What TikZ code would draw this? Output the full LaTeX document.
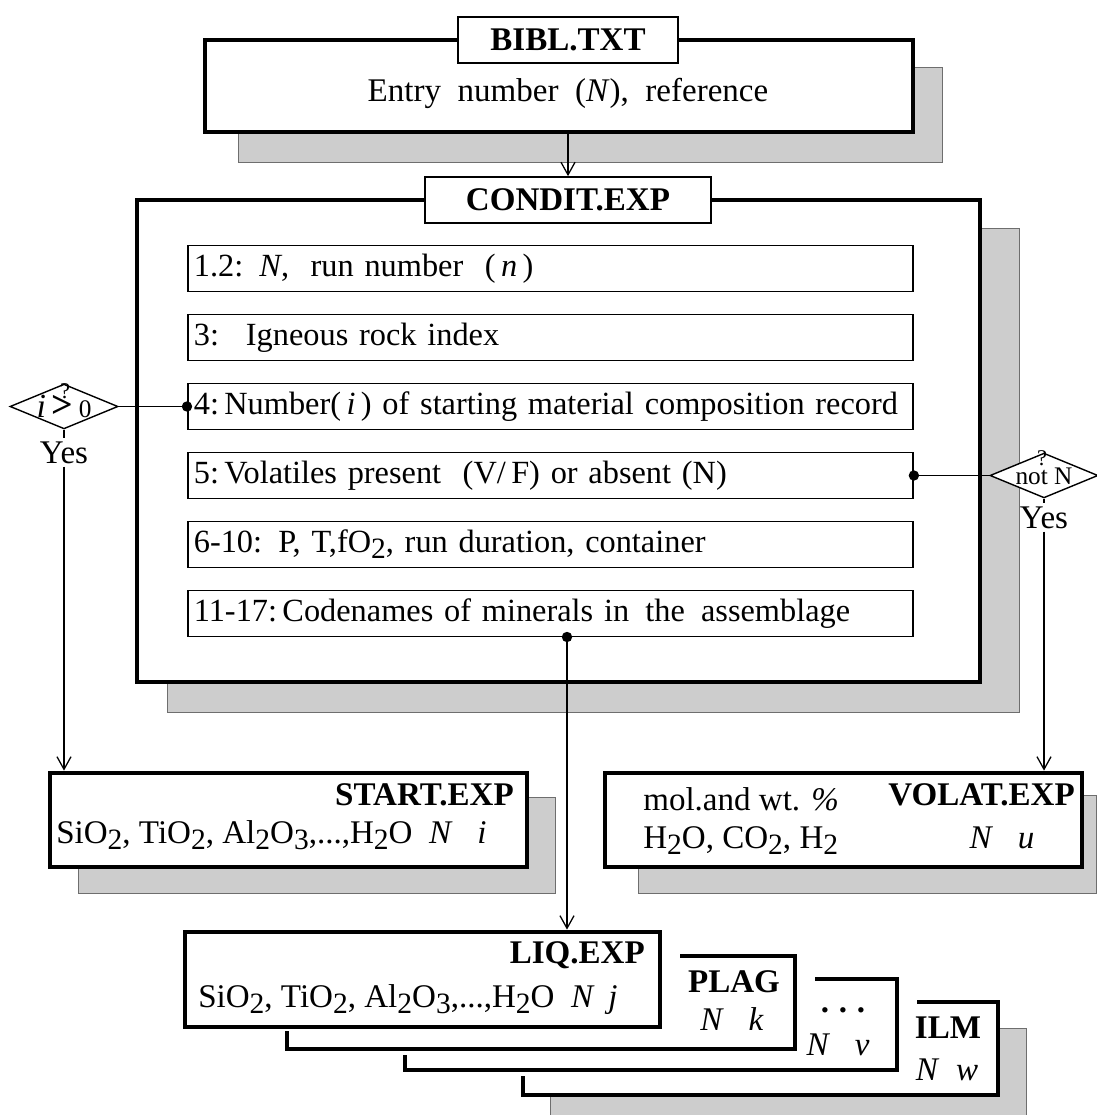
\documentclass[tikz,border=0pt]{standalone}
\usepackage{fontspec}
\setmainfont{Liberation Serif}
\usepackage{tikz}
\usetikzlibrary{shapes.geometric, arrows.meta, positioning, fit}
\usepackage{xcolor}
\definecolor{shadowgray}{RGB}{205,205,205}
\definecolor{shadowedge}{RGB}{110,110,110}
\newcommand{\bodysize}{\fontsize{23.5}{28}\selectfont}
\newcommand{\lowsub}[1]{\raisebox{-0.4ex}{\fontsize{21}{21}\selectfont #1}}
\tikzstyle{bigbox} = [draw, line width=3.4pt, fill=white, inner sep=0pt]
\tikzstyle{titlebox} = [draw, line width=1.2pt, fill=white, minimum height=1.15cm, font=\bodysize\bfseries]
\tikzstyle{rowbox} = [draw, line width=1.2pt, fill=white, anchor=west, minimum height=1.15cm, text width=17.825cm, inner xsep=0.15cm, align=left, font=\fontsize{23}{28}\selectfont]
\tikzstyle{shadowbox} = [fill=shadowgray, draw=shadowedge, line width=0.4pt]
\tikzstyle{decision} = [diamond, draw, line width=1pt, fill=white, inner sep=0pt, minimum width=2.7cm, minimum height=1.12cm]
\tikzstyle{backedge} = [line width=3.4pt, line cap=rect]
\tikzstyle{txt} = [inner sep=0pt, font=\bodysize]
\tikzstyle{query} = [inner sep=0pt, font=\fontsize{16}{16}\selectfont]
\tikzstyle{yes} = [inner sep=2pt, font=\bodysize]
\tikzstyle{link} = [line width=0.9pt]
\tikzstyle{arrow} = [line width=0.9pt,->,>={Straight Barb[length=9pt,width=10pt]}]
\tikzstyle{joint} = [circle, fill=black, inner sep=0pt, minimum size=0.26cm]

\begin{document}
\begin{tikzpicture}[x=0.025cm, y=-0.025cm]
\useasboundingbox (0,0) rectangle (1096,1115);

% shadows
\filldraw[shadowbox] (238,67) rectangle (942,162);
\filldraw[shadowbox] (167,228) rectangle (1019,712);
\filldraw[shadowbox] (78,797) rectangle (555,893);
\filldraw[shadowbox] (638,795) rectangle (1096,893);
\filldraw[shadowbox] (550,1028) rectangle (1026,1125);

% bibliography file
\node[bigbox, fit={(205,40) (913,132)}] (bibl) {};
\node[titlebox, minimum width=5.5cm] (bibltitle) at (568,40) {BIBL.TXT};
\node[txt, anchor=base] (bibltext) at (568,102) {Entry\ \ number\ \ (\textit{N}),\ \ reference};

% experimental conditions
\node[bigbox, fit={(137,200) (980,682)}] (condit) {};
\node[titlebox, minimum width=7.15cm] (condittitle) at (568,200) {CONDIT.EXP};
\node[rowbox] (row1) at (187,268.5) {1.2: \textit{N}, \ run number \ (\,\textit{n}\,)};
\node[rowbox] (row2) at (187,337.5) {3: \ Igneous rock index};
\node[rowbox] (row3) at (187,406.5) {\mbox{4:\,Number(\,\textit{i}\,) of starting material composition record}};
\node[rowbox] (row4) at (187,475.5) {5:\,Volatiles present \ (V/\,F) or absent (N)};
\node[rowbox] (row5) at (187,544.5) {6-10: P, T,fO\lowsub{2}, run duration, container};
\node[rowbox] (row6) at (187,613.5) {11-17:\,Codenames of minerals in \,the \,assemblage};

% decisions
\node[decision] (ldiam) at (64,406.5) {};
\node[txt, anchor=base] (ldiamtxt) at (64,417) {\fontsize{24}{24}\selectfont\textit{i}\,{\fontsize{27}{27}\selectfont\textbf{>}}\,{\fontsize{18}{18}\selectfont 0}};
\node[query, anchor=base] (lquery) at (65,398) {?};
\node[yes, below=0.22cm of ldiam] (lyes) {Yes};
\node[decision] (rdiam) at (1044,475.5) {};
\node[txt, anchor=base] (rdiamtxt) at (1044,484) {\fontsize{18}{18}\selectfont not N};
\node[query, anchor=base] (rquery) at (1042,465) {?};
\node[yes, below=0.12cm of rdiam] (ryes) {Yes};

\draw[link] (ldiam.east) -- (row3.west);
\node[joint] (ldot) at (row3.west) {};
\draw[link] (row4.east) -- (rdiam.west);
\node[joint] (rdot) at (row4.east) {};
\draw[link] (ldiam.south) -- (lyes.north);
\draw[link] (rdiam.south) -- (ryes.north);

% start and volatile files
\node[bigbox, fit={(50,773) (527,867)}] (start) {};
\node[txt, anchor=base east] (starttitle) at (514,805) {\bfseries START.EXP};
\node[txt, anchor=base west] (starttext) at (56,843) {SiO\lowsub{2}, TiO\lowsub{2}, Al\lowsub{2}O\lowsub{3},...,H\lowsub{2}O \ \textit{N} \ \ \textit{i}};
\node[bigbox, fit={(605,773) (1082,867)}] (volat) {};
\node[txt, anchor=base east] (volattitle) at (1075,805) {\bfseries VOLAT.EXP};
\node[txt, anchor=base west] (volatunit) at (643,810) {mol.and wt. \textit{\%}};
\node[txt, anchor=base west] (volattext) at (643,848) {H\lowsub{2}O, CO\lowsub{2}, H\lowsub{2}};
\node[txt, anchor=base] (volatidx) at (1002,848) {\textit{N}\ \ \ \textit{u}};

% mineral files, back to front
\fill[white] (523,1002) rectangle (998,1095);
\draw[backedge] (523,1078) -- (523,1095) -- (998,1095) -- (998,1002) -- (919,1002);
\fill[white] (405,979) rectangle (897,1070);
\draw[backedge] (405,1057) -- (405,1070) -- (897,1070) -- (897,979) -- (817,979);
\fill[white] (287,956) rectangle (795,1049);
\draw[backedge] (287,1033) -- (287,1049) -- (795,1049) -- (795,956) -- (682,956);
\node[bigbox, fit={(185,932) (660,1027)}] (liq) {};
\node[txt, anchor=base east] (liqtitle) at (645,963) {\bfseries LIQ.EXP};
\node[txt, anchor=base west] (liqtext) at (198,1007) {SiO\lowsub{2}, TiO\lowsub{2}, Al\lowsub{2}O\lowsub{3},...,H\lowsub{2}O \ \textit{N} \,\textit{j}};
\node[txt, anchor=base] (plagtitle) at (734,992) {\bfseries PLAG};
\node[txt, anchor=base] (plagidx) at (732,1030) {\textit{N}\ \ \ \textit{k}};
\node[txt, anchor=base] (moretitle) at (843,1012) {\bfseries .\hspace{7pt}.\hspace{7pt}.};
\node[txt, anchor=base] (moreidx) at (838,1055) {\textit{N}\ \ \ \textit{v}};
\node[txt, anchor=base] (ilmtitle) at (948,1038) {\bfseries ILM};
\node[txt, anchor=base] (ilmidx) at (947,1080) {\textit{N}\ \ \textit{w}};

% connectors
\draw[arrow] (bibltitle |- bibl.south) -- (condittitle.north);
\coordinate (mindot) at (567,637);
\node[joint] (mjoint) at (mindot) {};
\draw[arrow] (mindot) -- (mindot |- liq.north);
\draw[arrow] (lyes.south) -- (lyes.south |- start.north);
\draw[arrow] (ryes.south) -- (ryes.south |- volat.north);
\end{tikzpicture}
\end{document}
